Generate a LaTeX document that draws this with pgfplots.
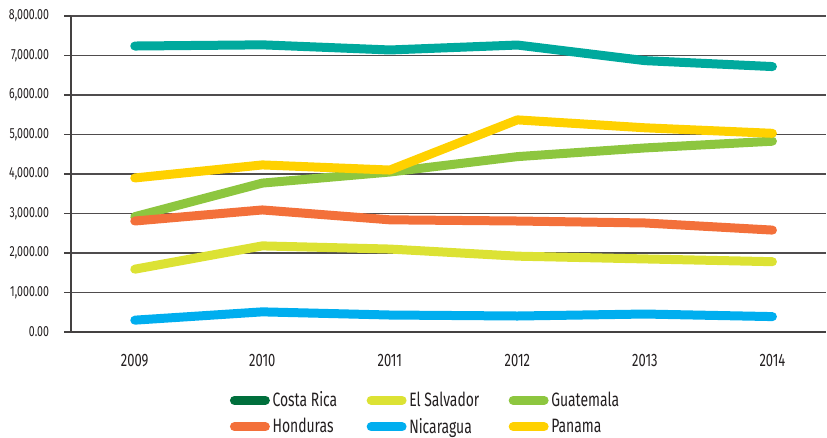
\documentclass[border=0pt]{standalone}
\usepackage{pgfplots}
\pgfplotsset{compat=1.18}
\usepackage{fontspec}
\setmainfont{Fira Sans}[FakeStretch=0.72]
\definecolor{crline}{HTML}{00A99D}
\definecolor{crleg}{HTML}{006F3C}
\definecolor{esal}{HTML}{DCE234}
\definecolor{guat}{HTML}{8DC63F}
\definecolor{hond}{HTML}{F3703A}
\definecolor{nica}{HTML}{00AEEF}
\definecolor{pana}{HTML}{FFD100}
\definecolor{txt}{HTML}{231F20}
\begin{document}
\begin{tikzpicture}
\useasboundingbox (-53.25pt,-78.75pt) rectangle (567pt,249pt);
\begin{axis}[
  at={(0,0)}, anchor=south west,
  scale only axis, width=566.25pt, height=237pt,
  xmin=-0.5, xmax=5.42, ymin=0, ymax=8000,
  axis lines=left, axis line style={-, draw=txt!85, line width=1.3pt},
  xtick={0,1,2,3,4,5}, xticklabels={2009,2010,2011,2012,2013,2014},
  major x tick style={draw=none},
  extra x ticks={-0.5,0.5,1.5,2.5,3.5,4.5}, extra x tick labels={},
  extra x tick style={grid=none, major tick length=5pt, tick style={draw=txt!85, line width=1pt}},
  ytick={0,1000,2000,3000,4000,5000,6000,7000,8000},
  scaled y ticks=false,
  ymajorgrids, grid style={draw=txt!80, line width=0.8pt},
  tick align=outside, major tick length=5pt,
  y tick style={draw=txt!85, line width=1pt},
  /pgf/number format/assume math mode=true,
  y tick label style={/pgf/number format/fixed, /pgf/number format/fixed zerofill, /pgf/number format/precision=2, /pgf/number format/1000 sep={,}},
  yticklabel style={font=\fontsize{11}{13}\selectfont, text=txt, xshift=-8pt},
  xticklabel style={font=\fontsize{13.5}{15}\selectfont, text=txt, yshift=-8pt},
  clip=false,
  legend columns=3,
  legend cell align=left,
  legend style={at={(0.47,-0.258)}, anchor=center, draw=none, fill=none,
    font=\fontsize{14.5}{16}\selectfont, text=txt,
    /tikz/every even column/.append style={column sep=20pt},
    row sep=3pt},
  legend image code/.code={\draw[#1, line width=6.75pt, line cap=round] (3.4pt,0pt) -- (26.6pt,0pt);},
  every axis plot/.append style={line width=6.75pt, line join=round, line cap=round},
]
\addlegendimage{crleg}\addlegendentry{Costa Rica}
\addplot[crline, forget plot] coordinates {(0,7240) (1,7270) (2,7140) (3,7265) (4,6870) (5,6720)};
\addplot[esal] coordinates {(0,1590) (1,2180) (2,2100) (3,1920) (4,1850) (5,1780)};
\addlegendentry{El Salvador}
\addplot[guat] coordinates {(0,2920) (1,3770) (2,4050) (3,4440) (4,4660) (5,4830)};
\addlegendentry{Guatemala}
\addplot[hond] coordinates {(0,2810) (1,3090) (2,2840) (3,2810) (4,2760) (5,2580)};
\addlegendentry{Honduras}
\addplot[nica] coordinates {(0,300) (1,510) (2,430) (3,405) (4,455) (5,390)};
\addlegendentry{Nicaragua}
\addplot[pana] coordinates {(0,3900) (1,4230) (2,4100) (3,5370) (4,5170) (5,5030)};
\addlegendentry{Panama}
\end{axis}
\end{tikzpicture}
\end{document}
